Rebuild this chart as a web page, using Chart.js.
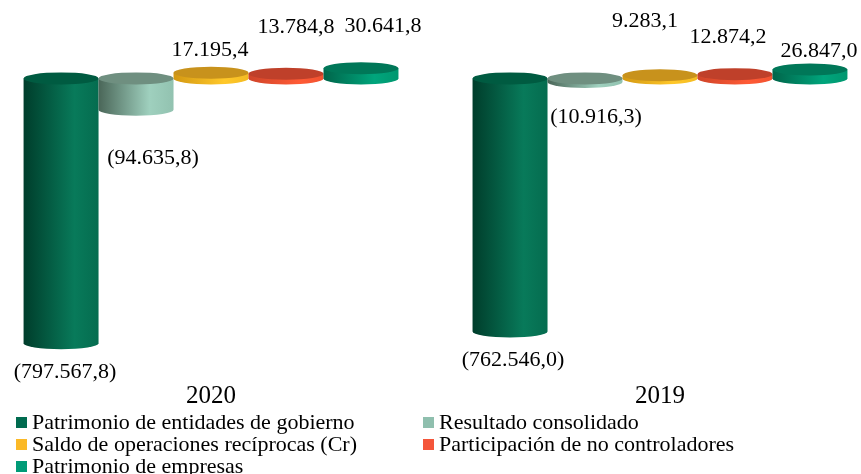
<!DOCTYPE html>
<html>
<head>
<meta charset="utf-8">
<script src="https://cdn.jsdelivr.net/npm/chart.js@4/dist/chart.umd.min.js"></script>
<style>
  body { margin: 0; background: #fff; width: 861px; height: 474px; overflow: hidden; }
  #wrap { position: relative; width: 861px; height: 474px; }
  #legend { position: absolute; left: 16px; top: 411px; font-family: "Liberation Serif", "Times New Roman", Times, serif; font-size: 22px; color: #000; }
  #legend ul { list-style: none; margin: 0; padding: 0; display: grid; grid-template-columns: 407px 420px; }
  #legend li { display: flex; align-items: center; height: 22px; white-space: nowrap; }
  #legend span { display: inline-block; width: 11px; height: 11px; margin-right: 5px; flex: none; }
</style>
</head>
<body>
<div id="wrap"><canvas id="chart"></canvas><div id="legend"></div></div>
<script>
const years = ['2020', '2019'];
const seriesNames = [
  'Patrimonio de entidades de gobierno',
  'Resultado consolidado',
  'Saldo de operaciones recíprocas (Cr)',
  'Participación de no controladores',
  'Patrimonio de empresas'
];
const patrimonioGobierno = [-797567.8, -762546.0];
const resultadoConsolidado = [-94635.8, -10916.3];
const saldoReciprocas = [17195.4, 9283.1];
const noControladores = [13784.8, 12874.2];
const patrimonioEmpresas = [30641.8, 26847.0];

const FONT = '"Liberation Serif", "Times New Roman", Times, serif';

// cylinder colours: legend, cap, body gradient (left, light, right)
const palette = [
  {legend: '#006b4f', cap: '#005b41', body: ['#003d2b', '#087a5a', '#056c4f']},
  {legend: '#8fbfae', cap: '#6f8f80', body: ['#4a6658', '#9fd0be', '#92c2b0']},
  {legend: '#fbb927', cap: '#c8921c', body: ['#d39812', '#ffc82a', '#f3bb22']},
  {legend: '#f4553a', cap: '#bf402a', body: ['#cf4429', '#ff5b36', '#f05230']},
  {legend: '#009b77', cap: '#007758', body: ['#00654a', '#00a57c', '#00976f']}
];

// label nudges [dx, dy] from the end of each bar, per series / year
const labelNudge = [
  [[4, 29], [3, 29]],
  [[17, 48], [11, 35]],
  [[-1, -22], [-15, -54]],
  [[10, -47], [-7, -37]],
  [[22, -42], [9, -18]]
];

const seriesValues = [patrimonioGobierno, resultadoConsolidado, saldoReciprocas, noControladores, patrimonioEmpresas];

function fmt(v) {
  const abs = Math.abs(v).toFixed(1).split('.');
  const intPart = abs[0].replace(/\B(?=(\d{3})+(?!\d))/g, '.');
  const s = intPart + ',' + abs[1];
  return v < 0 ? '(' + s + ')' : s;
}

const CAP_RY = 6;

const cylinderPlugin = {
  id: 'cylinders',
  afterDatasetsDraw(chart) {
    const ctx = chart.ctx;
    chart.data.datasets.forEach((ds, di) => {
      const meta = chart.getDatasetMeta(di);
      const col = palette[di];
      meta.data.forEach((bar) => {
        const rx = bar.width / 2;
        const top = Math.min(bar.y, bar.base);
        const bot = Math.max(bar.y, bar.base);
        const g = ctx.createLinearGradient(bar.x - rx, 0, bar.x + rx, 0);
        g.addColorStop(0, col.body[0]);
        g.addColorStop(0.68, col.body[1]);
        g.addColorStop(1, col.body[2]);
        ctx.save();
        ctx.fillStyle = g;
        ctx.beginPath();
        ctx.moveTo(bar.x - rx, top);
        ctx.lineTo(bar.x - rx, bot);
        ctx.ellipse(bar.x, bot, rx, CAP_RY, 0, Math.PI, 0, true);
        ctx.lineTo(bar.x + rx, top);
        ctx.closePath();
        ctx.fill();
        ctx.fillStyle = col.cap;
        ctx.beginPath();
        ctx.ellipse(bar.x, top, rx, CAP_RY, 0, 0, Math.PI * 2);
        ctx.fill();
        ctx.restore();
      });
    });
  }
};

const labelPlugin = {
  id: 'valueLabels',
  afterDraw(chart) {
    const ctx = chart.ctx;
    ctx.save();
    ctx.font = '22px ' + FONT;
    ctx.fillStyle = '#000';
    ctx.textAlign = 'center';
    ctx.textBaseline = 'middle';
    chart.data.datasets.forEach((ds, di) => {
      chart.getDatasetMeta(di).data.forEach((bar, i) => {
        const n = labelNudge[di][i];
        ctx.fillText(fmt(ds.data[i].y), bar.x + n[0], bar.y + n[1]);
      });
    });
    ctx.restore();
  }
};

const datasets = seriesNames.map((name, di) => ({
  label: name,
  data: seriesValues[di].map((v, i) => ({x: i, y: v})),
  backgroundColor: 'rgba(0,0,0,0)',
  borderWidth: 0
}));

const chart = new Chart(document.getElementById('chart'), {
  type: 'bar',
  data: {datasets: datasets},
  options: {
    responsive: true,
    maintainAspectRatio: false,
    animation: false,
    categoryPercentage: 0.835,
    barPercentage: 1,
    layout: {padding: {top: 12, left: 0, right: 0, bottom: 68}},
    plugins: {legend: {display: false}, tooltip: {enabled: false}},
    scales: {
      x: {
        type: 'linear',
        offset: false,
        min: -0.47,
        max: 1.4477,
        grid: {display: false, offset: false, drawTicks: false},
        border: {display: false},
        afterBuildTicks(axis) { axis.ticks = [{value: 0}, {value: 1}]; },
        afterFit(axis) { axis.height = 62; },
        ticks: {
          padding: 37,
          autoSkip: false,
          maxRotation: 0,
          minRotation: 0,
          color: '#000',
          font: {family: FONT, size: 25},
          callback: (v) => years[v]
        }
      },
      y: {
        display: false,
        min: -800000,
        max: 200000
      }
    }
  },
  plugins: [cylinderPlugin, labelPlugin]
});

const legendEl = document.getElementById('legend');
legendEl.innerHTML = '<ul>' + seriesNames.map((name, i) =>
  '<li><span style="background:' + palette[i].legend + '"></span>' + name + '</li>'
).join('') + '</ul>';
</script>
</body>
</html>
